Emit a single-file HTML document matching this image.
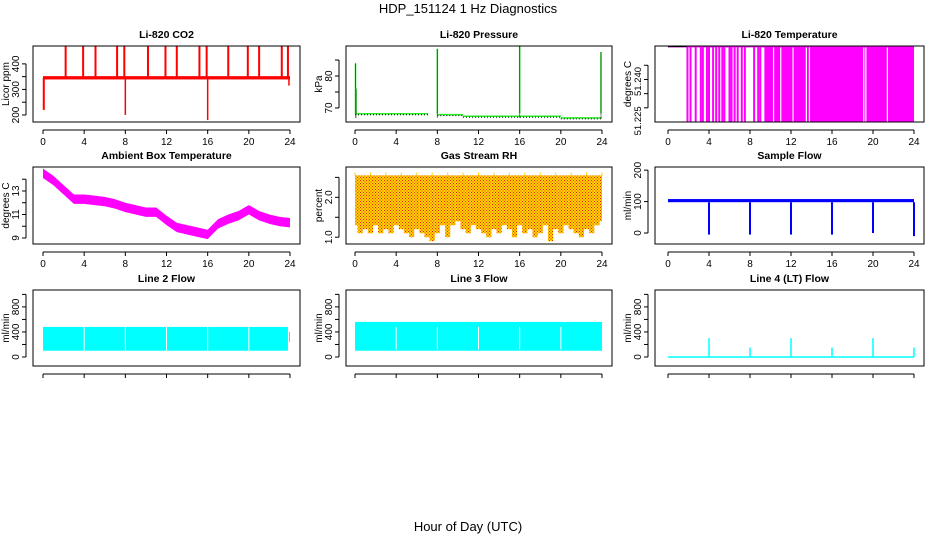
<!DOCTYPE html>
<html><head><meta charset="utf-8"><style>
body{margin:0;background:#fff}
svg{display:block;font-family:"Liberation Sans",sans-serif}
</style></head><body>
<svg id="c" width="936" height="540" viewBox="0 0 936 540">
<defs>
<pattern id="rhpat" width="3" height="3" patternUnits="userSpaceOnUse">
<rect width="3" height="3" fill="#ffd400"/><rect x="0" y="0" width="1" height="1" fill="#e82000"/><rect x="1.5" y="1.5" width="1" height="1" fill="#e82000"/>
</pattern>
</defs>
<text x="468" y="13" text-anchor="middle" font-size="13">HDP_151124  1 Hz Diagnostics</text>
<text x="468" y="531" text-anchor="middle" font-size="13">Hour of Day (UTC)</text>
</svg>
<script>
// ---- data arrays ----
const hourTicks=[0,4,8,12,16,20,24];
const co2Base=345, co2BandLo=339, co2BandHi=352;
const co2UpHours=[2.2,3.9,5.1,7.2,7.9,10.2,11.9,13.0,15.2,15.9,18.0,19.9,21.0,23.2,23.8];
const co2UpValues=[470,470,470,470,470,470,470,470,470,470,470,470,470,470,470];
const co2DownHours=[0.05,0.1,8.0,16.0,23.9];
const co2DownValues=[220,220,200,180,315];
const ambHours=[0,1,2,3,4,5,6,7,8,9,10,11,12,13,14,15,16,17,18,19,20,21,22,23,24];
const ambValues=[14.5,13.9,13.1,12.3,12.3,12.2,12.1,11.9,11.6,11.4,11.2,11.2,10.5,9.9,9.7,9.5,9.3,10.2,10.6,10.9,11.4,10.9,10.6,10.4,10.3];
const ltTopValue=51.2466;
const ltLineHours=[1.9,2.2,2.7,3.2,3.4,3.8,4.0,4.4,4.7,5.0,5.3,5.5,6.0,6.2,6.5,6.8,7.2,7.5,8.4,8.8,9.0];
const ltFillStart=9.4, ltFillEnd=24;
const ltGapHours=[10.3,11.0,12.2,13.5,13.8,19.1,19.3,21.4];
const presSegStart=[0,8,10.5,20];
const presSegEnd=[7.1,10.5,20,24];
const presSegValue=[68.2,67.9,67.4,66.9];
const presSpikeHours=[0.05,0.1,8.0,16.0,23.9];
const presSpikeValues=[84,76,88.5,89.2,87.5];
const rhTop=2.55;
const rhLow=[1.3,1.1,1.2,1.1,1.3,1.1,1.2,1.1,1.3,1.2,1.1,1.0,1.2,1.1,1.0,0.9,1.1,1.3,1.0,1.3,1.4,1.2,1.1,1.3,1.2,1.1,1.0,1.2,1.1,1.3,1.2,1.0,1.3,1.1,1.2,1.0,1.1,1.3,0.9,1.2,1.1,1.3,1.2,1.1,1.0,1.2,1.1,1.3,1.4];
const sfLo=98, sfHi=108;
const sfDipHours=[4,8,12,16,20,24];
const sfDipValues=[-5,-5,-5,-5,0,-10];
const l2Lo=100, l2Hi=480;
const l3Lo=100, l3Hi=560;
const flowGapHours=[4,8,12,16,20];
const l4SpikeHours=[4,8,12,16,20,24];
const l4SpikeValues=[300,150,300,150,300,150];

// ---- layout ----
const svg=document.getElementById('c');
const NS='http://www.w3.org/2000/svg';
function mk(tag,attrs,parent){const e=document.createElementNS(NS,tag);for(const k in attrs)e.setAttribute(k,attrs[k]);(parent||svg).appendChild(e);return e;}
const cols=[{l:33,r:300,x0:43,x1:290},{l:346,r:612,x0:355,x1:602},{l:655,r:924,x0:668,x1:914}];
const rows=[{t:46,b:122},{t:167,b:244},{t:290,b:366}];
function panel(ci,ri,title,ylab,ymin,ymax,ticks,labels,name,xlabels){
  const c=cols[ci],r=rows[ri];
  const g=mk('g',{});
  
  
  const sx=h=>c.x0+(c.x1-c.x0)*h/24;
  const sy=v=>r.b-(v-ymin)/(ymax-ymin)*(r.b-r.t);
  const t=mk('text',{x:(c.l+c.r)/2,y:r.t-8,'text-anchor':'middle','font-size':10.5,'font-weight':'bold'},g);t.textContent=title;
  
  
  const yl=mk('text',{x:0,y:0,transform:`translate(${c.l-24},${(r.t+r.b)/2}) rotate(-90)`,'text-anchor':'middle','font-size':10},g);yl.textContent=ylab;
  
  
  const ay=r.b+8;
  mk('line',{x1:sx(0),x2:sx(24),y1:ay,y2:ay,stroke:'#000'},g);
  hourTicks.forEach(h=>{mk('line',{x1:sx(h),x2:sx(h),y1:ay,y2:ay+4,stroke:'#000'},g);
    if(xlabels){const tl=mk('text',{x:sx(h),y:ay+15,'text-anchor':'middle','font-size':10},g);tl.textContent=h;
    
    }});
  const ax=c.l-7;
  mk('line',{x1:ax,x2:ax,y1:sy(ticks[0]),y2:sy(ticks[ticks.length-1]),stroke:'#000'},g);
  ticks.forEach(v=>mk('line',{x1:ax,x2:ax-4,y1:sy(v),y2:sy(v),stroke:'#000'},g));
  labels.forEach(([v,s,off,fs])=>{const tl=mk('text',{transform:`translate(${ax-7},${sy(v)+(off||0)}) rotate(-90)`,'text-anchor':'middle','font-size':fs||10},g);tl.textContent=s;
    
    });
  const plot=mk('g',{},g);
  
  
  mk('rect',{x:c.l,y:r.t,width:c.r-c.l,height:r.b-r.t,fill:'none',stroke:'#000'},g);
  return {sx,sy,plot,g};
}
function vline(p,h,v1,v2,col,w){return mk('line',{x1:p.sx(h),x2:p.sx(h),y1:p.sy(v1),y2:p.sy(v2),stroke:col,'stroke-width':w||1.2},p.plot);}
function band(p,h0,h1,lo,hi,fill){const y1=p.sy(hi),y2=p.sy(lo);return mk('rect',{x:p.sx(h0),y:Math.min(y1,y2),width:p.sx(h1)-p.sx(h0),height:Math.abs(y2-y1),fill},p.plot);}

// CO2
let p=panel(0,0,'Li-820 CO2','Licor ppm',172.5,470,[200,250,300,350,400],[[200,'200'],[300,'300'],[400,'400']],'co2',true);
band(p,0,24,co2BandLo,co2BandHi,'#ff0000');
co2UpHours.forEach((h,i)=>vline(p,h,co2Base,co2UpValues[i],'#ff0000',2));
co2DownHours.forEach((h,i)=>vline(p,h,co2Base,co2DownValues[i],'#ff0000',1.5));

// Pressure
p=panel(1,0,'Li-820 Pressure','kPa',65.6,89.4,[70,75,80,85],[[70,'70'],[80,'80']],'pressure',true);
presSegStart.forEach((s,i)=>{mk('line',{x1:p.sx(s),x2:p.sx(presSegEnd[i]),y1:p.sy(presSegValue[i]),y2:p.sy(presSegValue[i]),stroke:'#22ee22','stroke-width':1.5},p.plot);
 mk('line',{x1:p.sx(s),x2:p.sx(presSegEnd[i]),y1:p.sy(presSegValue[i])+1,y2:p.sy(presSegValue[i])+1,stroke:'#000','stroke-width':1,'stroke-dasharray':'1 2'},p.plot);});
presSpikeHours.forEach((h,i)=>{vline(p,h,presSegValue[0],presSpikeValues[i],'#22ee22',1.5);
 mk('line',{x1:p.sx(h),x2:p.sx(h),y1:p.sy(67),y2:p.sy(presSpikeValues[i]),stroke:'#000','stroke-width':1,'stroke-dasharray':'1 1'},p.plot);});

// Li-820 temperature
p=panel(2,0,'Li-820 Temperature','degrees C',51.22,51.2468,[51.225,51.23,51.235,51.24],[[51.225,'51.225',13,9.5],[51.235,'51.240',2,9.5]],'li820-temp',true);
mk('line',{x1:p.sx(0),x2:p.sx(24),y1:p.sy(ltTopValue),y2:p.sy(ltTopValue),stroke:'#ff00ff','stroke-width':1.5},p.plot);
mk('line',{x1:p.sx(0),x2:p.sx(1.9),y1:p.sy(ltTopValue),y2:p.sy(ltTopValue),stroke:'#000','stroke-width':1},p.plot);
ltLineHours.forEach(h=>vline(p,h,51.22,ltTopValue,'#ff00ff',2));
band(p,ltFillStart,ltFillEnd,51.22,ltTopValue,'#ff00ff');
ltGapHours.forEach(h=>vline(p,h,51.22,ltTopValue-0.0003,'#ffffff',1.2));

// Ambient
p=panel(0,1,'Ambient Box Temperature','degrees C',8.49,15.04,[9,10,11,12,13,14],[[9,'9'],[11,'11'],[13,'13']],'ambient-temp',true);
const ptsHi=ambHours.map((h,i)=>p.sx(h)+','+p.sy(ambValues[i]+0.4)).join(' ');
const ptsLo=ambHours.slice().reverse().map((h,i)=>p.sx(h)+','+p.sy(ambValues[ambHours.length-1-i]-0.4)).join(' ');
mk('polygon',{points:ptsHi+' '+ptsLo,fill:'#ff00ff'},p.plot);

// RH
p=panel(1,1,'Gas Stream RH','percent',0.83,2.76,[1.0,1.5,2.0,2.5],[[1.0,'1.0'],[2.0,'2.0']],'rh',true);
rhLow.forEach((v,i)=>{const h0=Math.max(0,i*0.5-0.25),h1=Math.min(24,i*0.5+0.25);band(p,h0,h1,v,rhTop,'url(#rhpat)');});
rhLow.forEach((v,i)=>{if(i%3==0)vline(p,i*0.5,rhTop,2.62,'#ffd400',1);});

// Sample flow
p=panel(2,1,'Sample Flow','ml/min',-35,210,[0,100,200],[[0,'0'],[100,'100'],[200,'200']],'sample-flow',true);
band(p,0,24,sfLo,sfHi,'#0000ff');
sfDipHours.forEach((h,i)=>vline(p,h,sfLo,sfDipValues[i],'#0000ff',2));

// Line 2
p=panel(0,2,'Line 2 Flow','ml/min',-144,1070,[0,200,400,600,800,1000],[[0,'0'],[400,'400'],[800,'800']],'line2-flow',false);
band(p,0,23.8,l2Lo,l2Hi,'#00ffff');
flowGapHours.forEach(h=>vline(p,h,l2Lo,l2Hi,'#ffffff',1));
band(p,23.9,24,240,400,'#00ffff');
// Line 3
p=panel(1,2,'Line 3 Flow','ml/min',-144,1070,[0,200,400,600,800,1000],[[0,'0'],[400,'400'],[800,'800']],'line3-flow',false);
band(p,0,24,l3Lo,l3Hi,'#00ffff');
flowGapHours.forEach(h=>vline(p,h,l3Lo+20,l3Hi-80,'#ffffff',1));
// Line 4
p=panel(2,2,'Line 4 (LT) Flow','ml/min',-144,1070,[0,200,400,600,800,1000],[[0,'0'],[400,'400'],[800,'800']],'line4-flow',false);
mk('line',{x1:p.sx(0),x2:p.sx(24),y1:p.sy(0),y2:p.sy(0),stroke:'#00ffff','stroke-width':1.5},p.plot);
l4SpikeHours.forEach((h,i)=>vline(p,h,0,l4SpikeValues[i],'#00ffff',1.5));
</script>
</body></html>
